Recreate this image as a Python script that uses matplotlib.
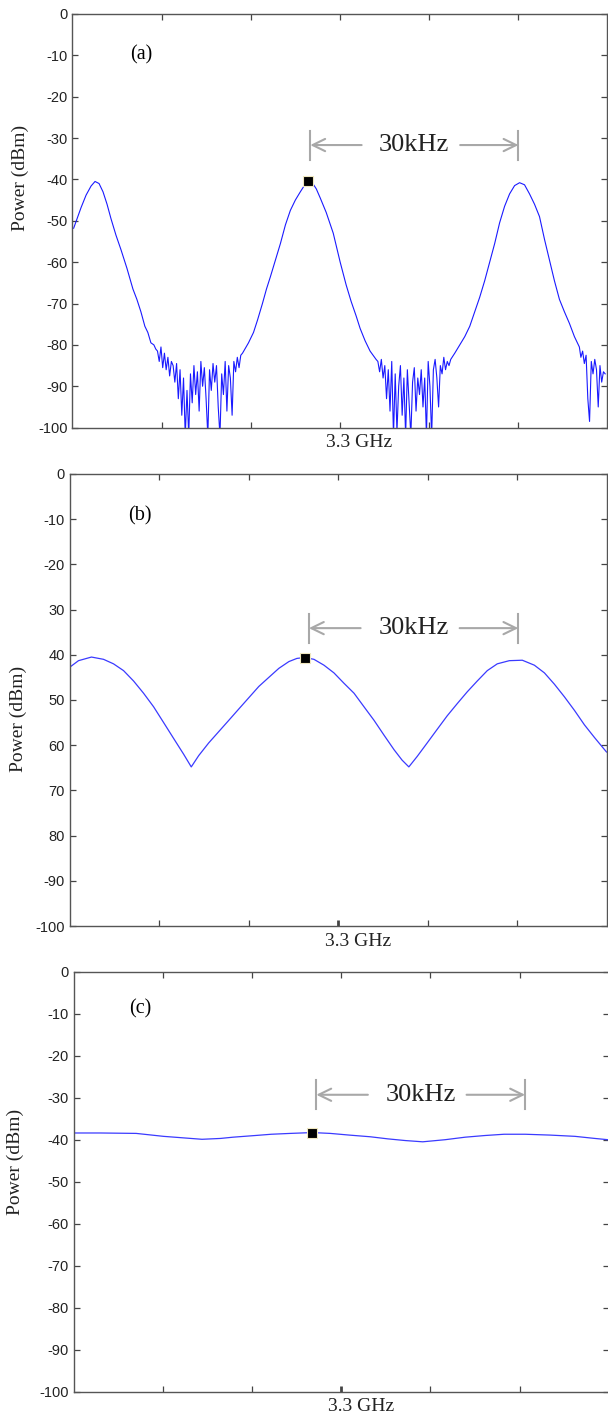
import numpy as np
import matplotlib
matplotlib.use('Agg')
import matplotlib.pyplot as plt
from matplotlib.transforms import ScaledTranslation

# frequency offset from 3.3 GHz in kHz, power in dBm

# panel (a): three narrow peaks with a noisy floor between them
a_left_f = [-38.33, -37.83, -37.26, -36.54, -35.82, -35.25, -34.67, -34.10, -33.52, -32.95,
            -32.23, -31.51, -30.65, -29.79, -29.22, -28.64, -28.07, -27.64, -27.20, -26.77]
a_left_p = [-51.8, -49.5, -46.8, -43.8, -41.6, -40.5, -41.0, -43.0, -46.0, -49.5,
            -53.5, -57.0, -61.5, -66.5, -69.0, -72.0, -75.5, -77.0, -79.5, -80.0]

a_noise1_range = (-26.5, -14.0)
a_noise1_p = [-81, -81.5, -84, -80.5, -85.5, -82, -86, -83, -87.5, -84, -85,
              -89, -84.5, -93, -86, -97, -88, -102, -91, -102, -87,
              -94, -85, -92, -86.5, -96, -84, -90, -85.5, -93, -102,
              -86, -91, -84.5, -89, -85, -95, -102, -87, -92, -84,
              -96, -85, -88, -97, -84, -86.5, -83, -85.5, -82.5, -82]

a_mid_f = [-13.14, -12.42, -11.84, -11.13, -10.55, -9.98, -9.26, -8.54, -7.82, -7.11,
           -6.39, -5.67, -5.10, -4.52, -3.95, -3.37, -2.80, -1.94, -0.93, 0.07,
           0.93, 1.65, 2.37, 2.94, 3.66, 4.38, 5.24]
a_mid_p = [-79.5, -77.0, -74.0, -70.0, -66.5, -63.5, -59.5, -55.5, -51.0, -47.5,
           -45.0, -43.0, -41.5, -40.5, -40.8, -42.3, -44.5, -48.0, -53.0, -60.0,
           -65.5, -69.5, -73.0, -76.0, -79.0, -81.5, -83.5]

a_noise2_range = (5.5, 16.0)
a_noise2_p = [-84, -86.5, -83.5, -88, -85, -93, -86, -96, -84, -102,
              -87, -101, -90, -85, -97, -88, -102, -86, -94, -102,
              -89, -85.5, -96, -88, -92, -86, -95, -88, -102, -84,
              -90, -102, -86, -83.5, -88, -95, -85, -87, -83, -86,
              -84, -85, -83.5]

a_right_f = [16.58, 17.30, 18.02, 18.74, 19.46, 20.17, 20.89, 21.61, 22.33, 23.04,
             23.76, 24.48, 25.20, 25.92, 26.63, 27.35, 28.07, 28.79, 29.51, 30.22,
             30.94, 31.66, 32.38, 33.10, 33.82, 34.53]
a_right_p = [-82.0, -80.0, -78.0, -75.5, -72.0, -68.5, -64.5, -60.0, -55.5, -50.5,
             -46.5, -43.5, -41.5, -40.8, -41.3, -43.5, -46.0, -49.0, -54.5, -59.5,
             -64.5, -69.0, -72.0, -74.8, -78.0, -80.5]

a_noise3_range = (34.75, 38.25)
a_noise3_p = [-83, -81.5, -84.5, -82.5, -93, -98.5, -84, -87, -83.5, -86, -95, -85, -89, -86.5, -87]

# panel (b): broadened comb
b_f = [-38.58, -37.28, -35.42, -33.69, -32.26, -30.82, -29.38, -27.95, -26.51, -25.07,
       -23.64, -22.20, -21.11, -20.04, -18.61, -17.17, -15.73, -14.30, -12.86, -11.42,
       -9.99, -8.55, -7.11, -5.96, -4.84, -3.52, -2.08, -0.65, 0.79, 2.23,
       3.66, 5.10, 6.54, 7.97, 9.12, 10.09, 11.28, 12.72, 14.15, 15.59,
       17.03, 18.46, 19.90, 21.34, 22.77, 24.50, 26.36, 28.09, 29.53, 30.96,
       32.40, 33.84, 35.27, 36.71, 38.43]
b_p = [-42.8, -41.3, -40.5, -41.0, -42.0, -43.5, -45.8, -48.5, -51.5, -55.0,
       -58.5, -62.0, -64.8, -62.3, -59.5, -57.0, -54.5, -52.0, -49.5, -47.0,
       -45.0, -43.0, -41.5, -40.8, -40.6, -41.0, -42.3, -44.0, -46.3, -48.5,
       -51.5, -54.5, -57.8, -61.0, -63.3, -64.8, -62.5, -59.5, -56.5, -53.5,
       -50.8, -48.2, -45.8, -43.5, -42.0, -41.3, -41.2, -42.3, -44.0, -46.5,
       -49.3, -52.3, -55.5, -58.3, -61.5]

# panel (c): almost flat spectrum
c_f = [-38.42, -34.63, -29.50, -25.57, -22.41, -20.03, -17.39, -15.57, -12.36, -10.06,
       -7.33, -4.17, -1.58, 1.15, 4.17, 6.70, 9.20, 11.71, 14.94, 17.82,
       20.69, 23.42, 26.44, 30.03, 33.62, 36.49, 38.36]
c_p = [-38.4, -38.4, -38.5, -39.2, -39.6, -39.9, -39.7, -39.4, -39.0, -38.7,
       -38.5, -38.3, -38.5, -38.9, -39.3, -39.8, -40.2, -40.5, -40.0, -39.4,
       -39.0, -38.7, -38.7, -38.9, -39.2, -39.7, -40.0]

# marked peaks and 30 kHz spacing brackets
markers = [(-4.52, -40.4), (-4.84, -40.6), (-4.17, -38.5)]
brackets = [(-4.24, 25.76, -31.7), (-4.24, 25.79, -34.1), (-3.59, 26.44, -29.3)]

yticks = [0, -10, -20, -30, -40, -50, -60, -70, -80, -90, -100]
ylabels_ac = ['0', '-10', '-20', '-30', '-40', '-50', '-60', '-70', '-80', '-90', '-100']
ylabels_b = ['0', '-10', '-20', '30', '40', '50', '60', '70', '80', '-90', '-100']
xticks = [-25.67, -12.83, 0, 12.83, 25.67]


def noise_segment(rng, vals):
    return list(np.linspace(rng[0], rng[1], len(vals))), vals


n1f, n1p = noise_segment(a_noise1_range, a_noise1_p)
n2f, n2p = noise_segment(a_noise2_range, a_noise2_p)
n3f, n3p = noise_segment(a_noise3_range, a_noise3_p)
a_f = a_left_f + n1f + a_mid_f + n2f + a_right_f + n3f
a_p = a_left_p + n1p + a_mid_p + n2p + a_right_p + n3p

sans = ['Liberation Sans', 'DejaVu Sans']
serif = ['Liberation Serif', 'DejaVu Serif']
grey = '#a8a8a8'

fig = plt.figure(figsize=(6.08, 14.17), dpi=100)
boxes = [[0.1192, 0.6982, 0.879, 0.2920],
         [0.1151, 0.3465, 0.8832, 0.3190],
         [0.1211, 0.01785, 0.8804, 0.2964]]
curves = [(a_f, a_p, '#1a1aff', 0.8), (b_f, b_p, '#3a3aff', 0.9), (c_f, c_p, '#3a3aff', 0.9)]
tags = ['(a)', '(b)', '(c)']
tag_pos = [(-28.6, -9.9), (-28.5, -9.3), (-28.9, -8.9)]
ylab_pos = [(20, 178), (18.5, 719), (15.5, 1162)]
bar_half = [3.5, 3.2, 3.4]

for i in range(3):
    ax = fig.add_axes(boxes[i])
    f, p, col, lw = curves[i]
    ax.plot(f, p, color=col, lw=lw)
    mx, my = markers[i]
    ax.plot([mx], [my], 's', color='black', markersize=6.5, markeredgecolor='#f0e8c0', markeredgewidth=0.8, zorder=5)

    x0, x1, yb = brackets[i]
    ax.plot([x0, x0], [yb + bar_half[i], yb - bar_half[i]], color=grey, lw=1.5)
    ax.plot([x1, x1], [yb + bar_half[i], yb - bar_half[i]], color=grey, lw=1.5)
    mid = (x0 + x1) / 2
    ax.annotate('', xy=(x0, yb), xytext=(mid - 7.6, yb),
                arrowprops=dict(arrowstyle='->,head_length=0.45,head_width=0.22', color=grey, lw=1.5,
                                mutation_scale=20, shrinkA=0, shrinkB=0))
    ax.annotate('', xy=(x1, yb), xytext=(mid + 6.6, yb),
                arrowprops=dict(arrowstyle='->,head_length=0.45,head_width=0.22', color=grey, lw=1.5,
                                mutation_scale=20, shrinkA=0, shrinkB=0))
    ax.text(mid, yb, '30kHz', family=serif, fontsize=19, ha='center', va='center', color='#222222')

    ax.text(tag_pos[i][0], tag_pos[i][1], tags[i], family=serif, fontsize=14.5, ha='center', va='center')

    ax.set_xlim(-38.5, 38.5)
    ax.set_ylim(-100, 0)
    ax.set_xticks(xticks)
    ax.set_xticklabels([])
    ax.set_yticks(yticks)
    ax.set_yticklabels(ylabels_b if i == 1 else ylabels_ac)
    for lab in ax.get_yticklabels():
        lab.set_family(sans)
    ax.tick_params(direction='in', length=4.3, width=0.9, color='#444444', top=True, right=True,
                   labelsize=10.5, labelcolor='#222222', pad=3.5)
    for s in ax.spines.values():
        s.set_color('#555555')
        s.set_linewidth(1.0)
    if i > 0:
        ax.xaxis.get_major_ticks()[2].tick1line.set_markeredgewidth(2.0)

    ax.annotate('3.3 GHz', xy=(0, 0), xycoords=('data', 'axes fraction'), xytext=(14, -11),
                textcoords='offset points', ha='center', va='center', family=serif, fontsize=14,
                color='#222222')

    fig.text(ylab_pos[i][0] / 608, 1 - ylab_pos[i][1] / 1417, 'Power (dBm)', rotation=90,
             ha='center', va='center', family=serif, fontsize=14, color='#222222')

fig.savefig('out.png', dpi=100)
